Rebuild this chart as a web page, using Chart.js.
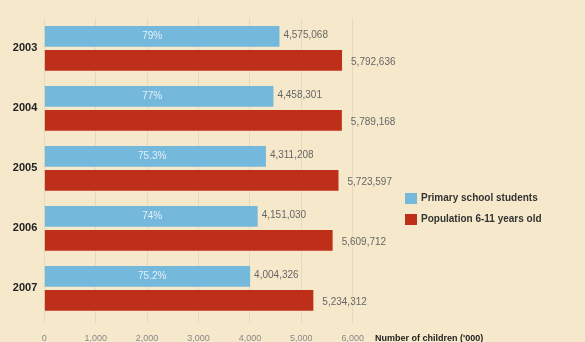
<!DOCTYPE html>
<html>
<head>
<meta charset="utf-8">
<script src="https://cdn.jsdelivr.net/npm/chart.js@4"></script>
<style>
  html, body { margin: 0; padding: 0; background: #f6e9cb; }
  #wrap { width: 585px; height: 342px; position: relative; }
</style>
</head>
<body>
<div id="wrap"><canvas id="chart"></canvas></div>
<script>
// data
var years = ['2003', '2004', '2005', '2006', '2007'];
var primaryStudents = [4575068, 4458301, 4311208, 4151030, 4004326];
var population611 = [5792636, 5789168, 5723597, 5609712, 5234312];
var enrolmentPct = ['79%', '77%', '75.3%', '74%', '75.2%'];
var xTicks = [0, 1000000, 2000000, 3000000, 4000000, 5000000, 6000000];
var seriesNames = ['Primary school students', 'Population 6-11 years old'];

var blue = '#74b8db';
var red = '#bd2f18';
var fontName = '"Liberation Sans", Arial, sans-serif';

function fmt(n) {
  return n.toLocaleString('en-US');
}

// numbers at bar ends, percentages inside blue bars, legend, axis title
var labelsPlugin = {
  id: 'labels',
  afterDatasetsDraw: function(chart) {
    var ctx = chart.ctx;
    var xs = chart.scales.x;
    ctx.save();
    ctx.textBaseline = 'middle';
    ctx.textAlign = 'left';
    ctx.font = '10px ' + fontName;
    ctx.fillStyle = '#666';
    chart.getDatasetMeta(0).data.forEach(function(bar, i) {
      ctx.fillText(fmt(primaryStudents[i]), bar.x + 4, bar.y - 1.5);
    });
    chart.getDatasetMeta(1).data.forEach(function(bar, i) {
      ctx.fillText(fmt(population611[i]), bar.x + 9, bar.y + 1.5);
    });

    ctx.textAlign = 'center';
    ctx.fillStyle = '#e2f0f7';
    chart.getDatasetMeta(0).data.forEach(function(bar, i) {
      ctx.fillText(enrolmentPct[i], xs.getPixelForValue(2100000), bar.y);
    });

    // legend
    ctx.textAlign = 'left';
    ctx.font = 'bold 10px ' + fontName;
    var colors = [blue, red];
    for (var k = 0; k < seriesNames.length; k++) {
      var y = 193 + k * 21;
      ctx.fillStyle = colors[k];
      ctx.fillRect(405, y, 12, 11);
      ctx.fillStyle = '#333';
      ctx.fillText(seriesNames[k], 421, y + 5.5);
    }

    // axis title next to the last tick
    ctx.font = 'bold 9px ' + fontName;
    ctx.fillStyle = '#222';
    ctx.fillText("Number of children ('000)", 375, 339);
    ctx.restore();
  }
};

var ctx = document.getElementById('chart').getContext('2d');
new Chart(ctx, {
  type: 'bar',
  data: {
    labels: years,
    datasets: [
      {
        label: seriesNames[0],
        data: primaryStudents,
        backgroundColor: blue,
        categoryPercentage: 0.8,
        barPercentage: 0.86
      },
      {
        label: seriesNames[1],
        data: population611,
        backgroundColor: red,
        categoryPercentage: 0.8,
        barPercentage: 0.86
      }
    ]
  },
  options: {
    indexAxis: 'y',
    responsive: true,
    maintainAspectRatio: false,
    animation: false,
    layout: { padding: { top: 18.4, right: 232.3, bottom: 0, left: 0 } },
    plugins: {
      legend: { display: false },
      tooltip: { enabled: false }
    },
    scales: {
      x: {
        min: 0,
        max: 6000000,
        afterBuildTicks: function(scale) {
          scale.ticks = xTicks.map(function(v) { return { value: v }; });
        },
        afterFit: function(scale) { scale.height = 23.6; },
        border: { display: false },
        grid: { color: '#e4dac0', lineWidth: 1, tickLength: 5, drawTicks: true },
        ticks: {
          padding: 10,
          color: '#888',
          font: { family: fontName, size: 9 },
          maxRotation: 0,
          callback: function(v) { return fmt(v / 1000); }
        }
      },
      y: {
        afterFit: function(scale) { scale.width = 44.3; },
        border: { display: false },
        grid: { display: false, drawTicks: false },
        ticks: {
          padding: 7,
          color: '#222',
          font: { family: fontName, size: 11, weight: 'bold' }
        }
      }
    }
  },
  plugins: [labelsPlugin]
});
</script>
</body>
</html>
